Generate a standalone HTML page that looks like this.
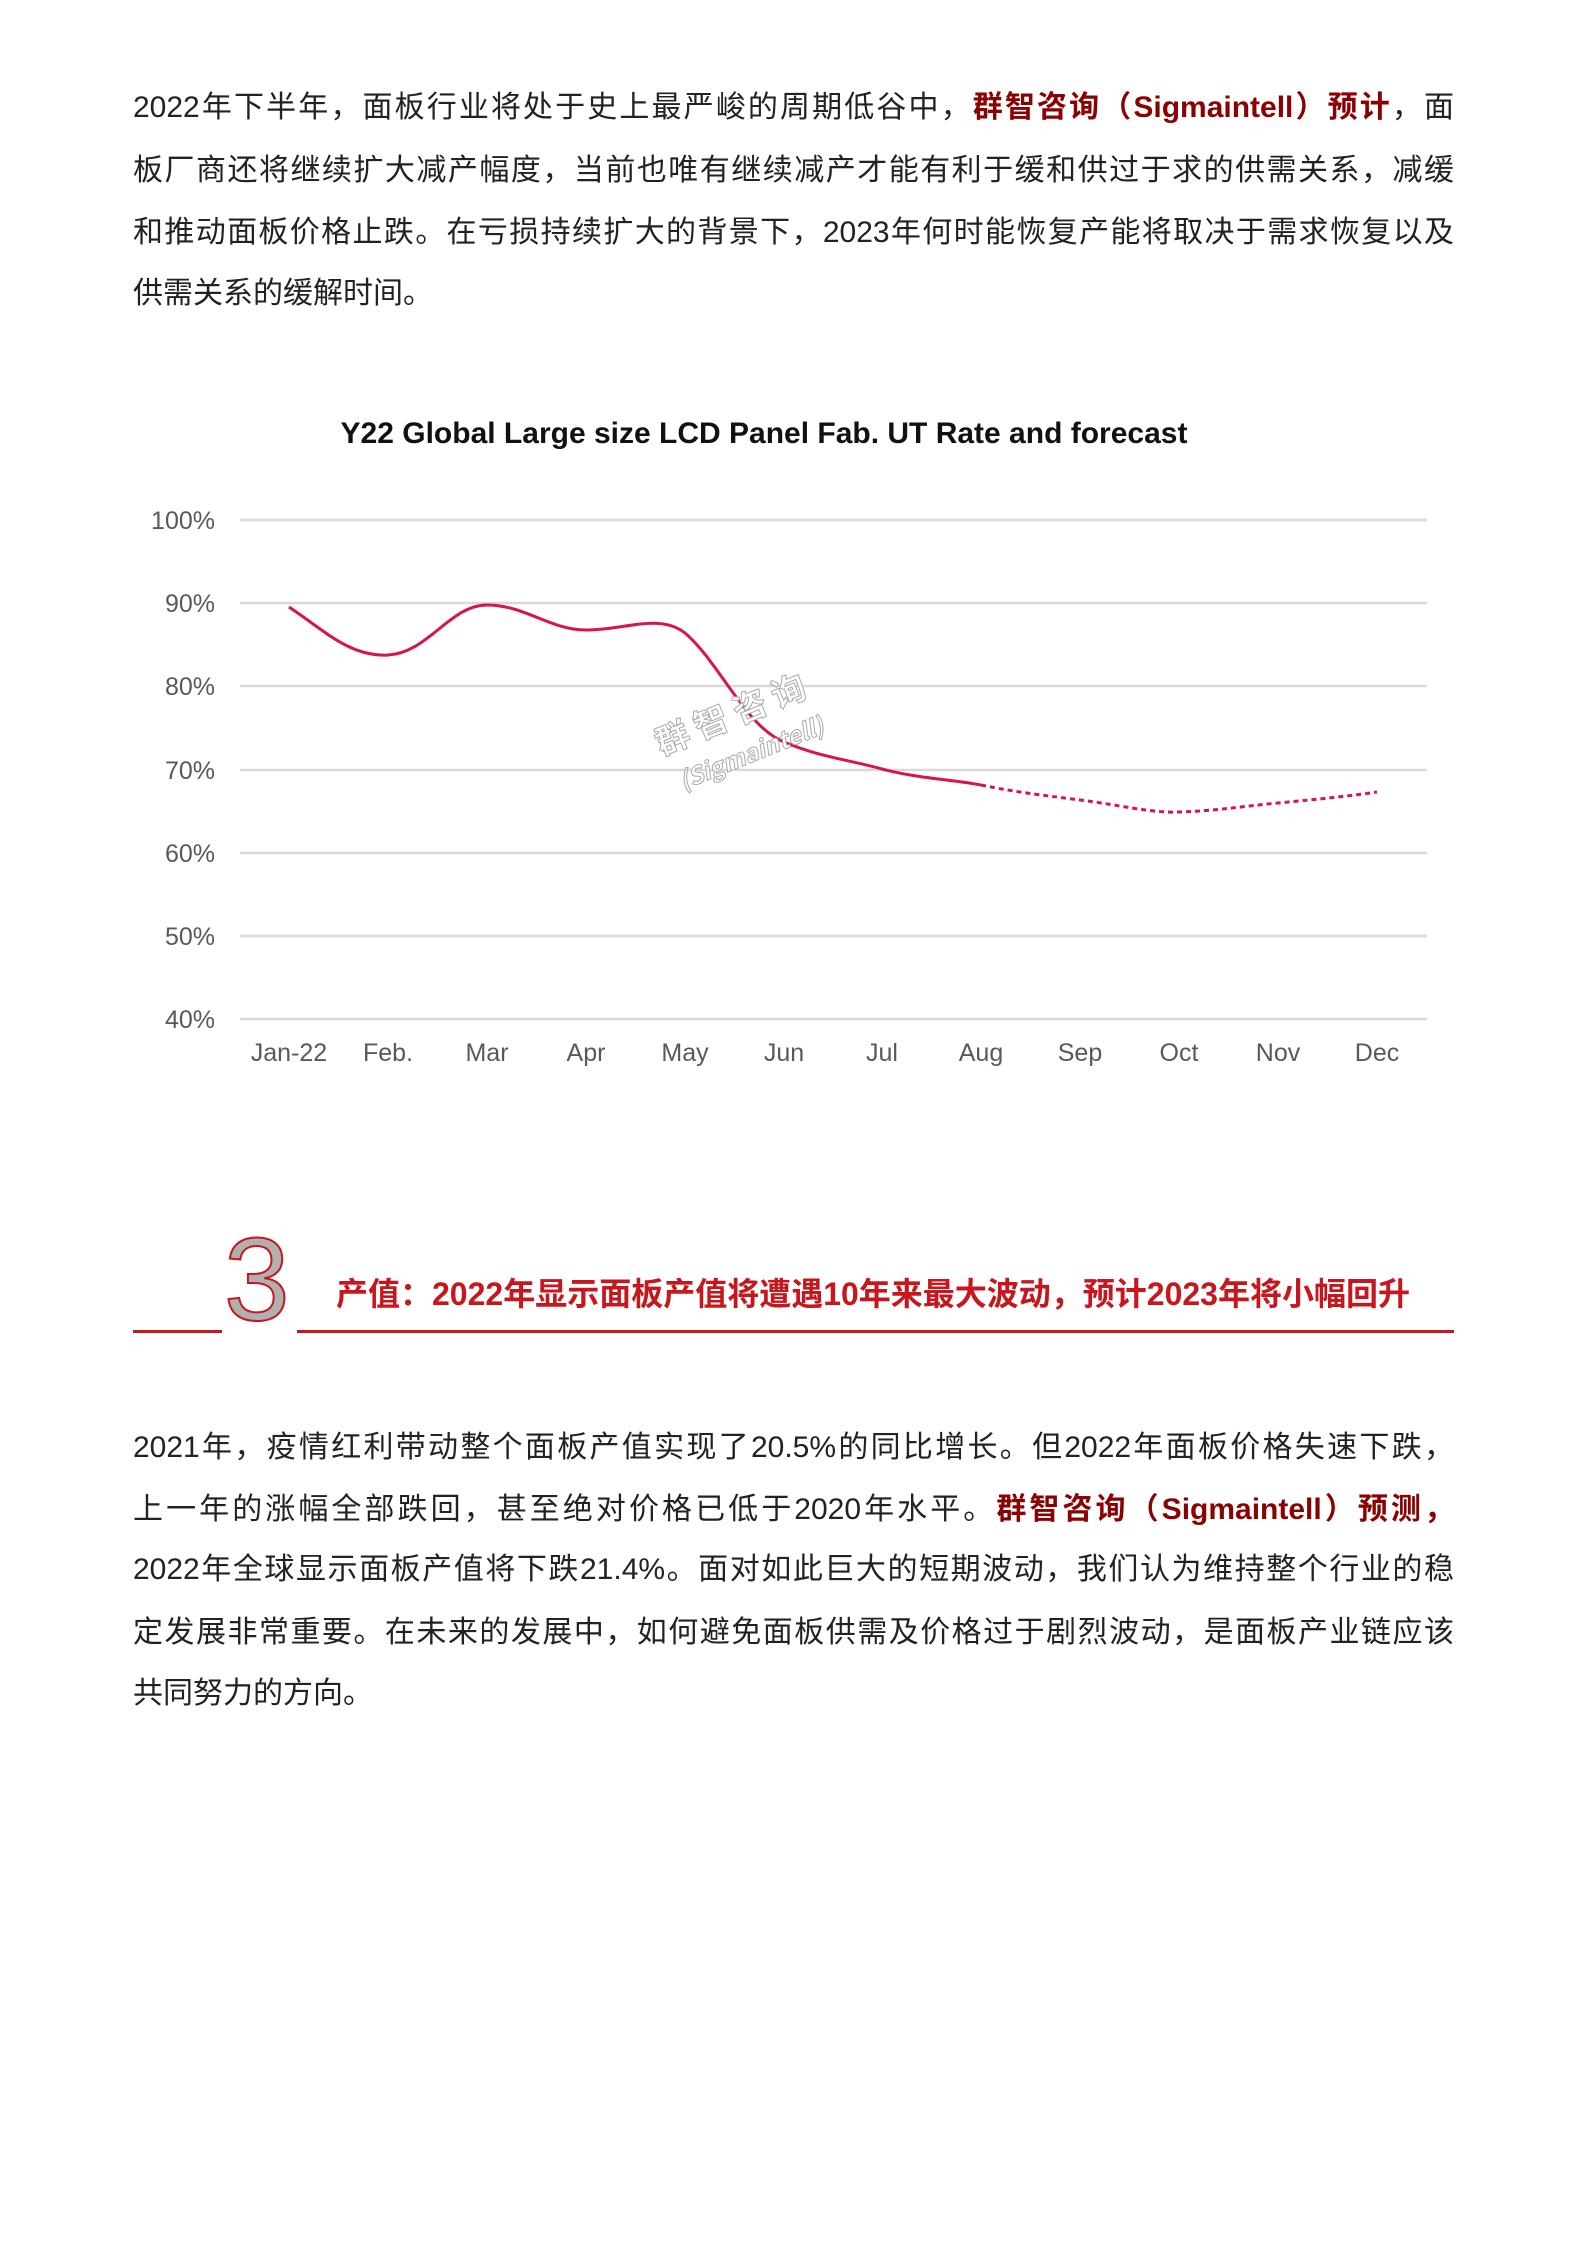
<!DOCTYPE html>
<html><head><meta charset="utf-8"><style>
body{margin:0;width:1586px;height:2245px;background:#fff;position:relative;overflow:hidden;font-family:"Liberation Sans","Noto Sans CJK SC",sans-serif}
.l{position:absolute;left:133px;width:1321px;font-size:30px;color:#222;text-align:justify;text-align-last:justify;white-space:nowrap;line-height:40px}
.l.n{text-align-last:left}
.r{color:#8b0000;font-weight:bold}
</style></head><body>
<div class="l" style="top:88px">2022年下半年，面板行业将处于史上最严峻的周期低谷中，<span class="r">群智咨询（Sigmaintell）预计</span>，面</div>
<div class="l" style="top:151px">板厂商还将继续扩大减产幅度，当前也唯有继续减产才能有利于缓和供过于求的供需关系，减缓</div>
<div class="l" style="top:213px">和推动面板价格止跌。在亏损持续扩大的背景下，2023年何时能恢复产能将取决于需求恢复以及</div>
<div class="l n" style="top:274px">供需关系的缓解时间。</div>

<svg style="position:absolute;left:0;top:0" width="1586" height="1200">
<text x="764" y="443" text-anchor="middle" font-family="Liberation Sans, sans-serif" font-weight="bold" font-size="30" fill="#111">Y22 Global Large size LCD Panel Fab. UT Rate and forecast</text>
<g stroke="#d9d9d9" stroke-width="2.5">
<line x1="240" x2="1427" y1="520" y2="520"/><line x1="240" x2="1427" y1="603" y2="603"/><line x1="240" x2="1427" y1="686" y2="686"/><line x1="240" x2="1427" y1="770" y2="770"/><line x1="240" x2="1427" y1="853" y2="853"/><line x1="240" x2="1427" y1="936" y2="936"/><line x1="240" x2="1427" y1="1019" y2="1019"/>
</g>
<g font-family="Liberation Sans, sans-serif" font-size="25" fill="#595959" text-anchor="end">
<text x="215" y="529">100%</text><text x="215" y="612">90%</text><text x="215" y="695">80%</text><text x="215" y="779">70%</text><text x="215" y="862">60%</text><text x="215" y="945">50%</text><text x="215" y="1028">40%</text>
</g>
<g font-family="Liberation Sans, sans-serif" font-size="25" fill="#595959" text-anchor="middle">
<text x="289" y="1061">Jan-22</text><text x="388" y="1061">Feb.</text><text x="487" y="1061">Mar</text><text x="586" y="1061">Apr</text><text x="685" y="1061">May</text><text x="784" y="1061">Jun</text><text x="882" y="1061">Jul</text><text x="981" y="1061">Aug</text><text x="1080" y="1061">Sep</text><text x="1179" y="1061">Oct</text><text x="1278" y="1061">Nov</text><text x="1377" y="1061">Dec</text>
</g>
<path d="M289,607 C325,631 350,657 388,655 C428,653 450,605 487,605 C525,605 550,630 586,630 C625,630 660,613 685,633 C720,663 745,726 784,742 C820,757 845,759 882,769 C920,779 950,779 981,785" fill="none" stroke="#d6154f" stroke-width="3"/>
<path d="M981,785 C1020,793 1050,796 1080,800 C1120,805 1150,813 1179,812 C1215,811 1245,806 1278,803 C1320,799 1350,796 1377,792" fill="none" stroke="#d6154f" stroke-width="3" stroke-dasharray="5,4"/>
<g transform="translate(735,726) rotate(-22)" fill="#fff" stroke="#aaa" stroke-width="1" font-family="Noto Sans CJK SC, sans-serif" font-weight="bold" text-anchor="middle">
<text x="0" y="0" font-size="34">群 智 咨 询</text>
<text x="5" y="40" font-size="24" font-style="italic">(Sigmaintell)</text>
</g>
</svg>

<div style="position:absolute;left:133px;top:1330px;width:89px;height:3px;background:#c8161d"></div>
<div style="position:absolute;left:297px;top:1330px;width:1157px;height:3px;background:#c8161d"></div>
<div style="position:absolute;left:224px;top:1221px;font-family:'Liberation Sans',sans-serif;font-size:118px;line-height:118px;color:#b0b0b0;-webkit-text-stroke:2px #c8161d;height:112px;overflow:hidden">3</div>
<div style="position:absolute;left:336px;top:1274px;font-size:32px;font-weight:bold;color:#c8161d;white-space:nowrap;line-height:40px">产值：2022年显示面板产值将遭遇10年来最大波动，预计2023年将小幅回升</div>

<div class="l" style="top:1428px">2021年，疫情红利带动整个面板产值实现了20.5%的同比增长。但2022年面板价格失速下跌，</div>
<div class="l" style="top:1490px">上一年的涨幅全部跌回，甚至绝对价格已低于2020年水平。<span class="r">群智咨询（Sigmaintell）预测，</span></div>
<div class="l" style="top:1550px">2022年全球显示面板产值将下跌21.4%。面对如此巨大的短期波动，我们认为维持整个行业的稳</div>
<div class="l" style="top:1613px">定发展非常重要。在未来的发展中，如何避免面板供需及价格过于剧烈波动，是面板产业链应该</div>
<div class="l n" style="top:1674px">共同努力的方向。</div>
</body></html>
